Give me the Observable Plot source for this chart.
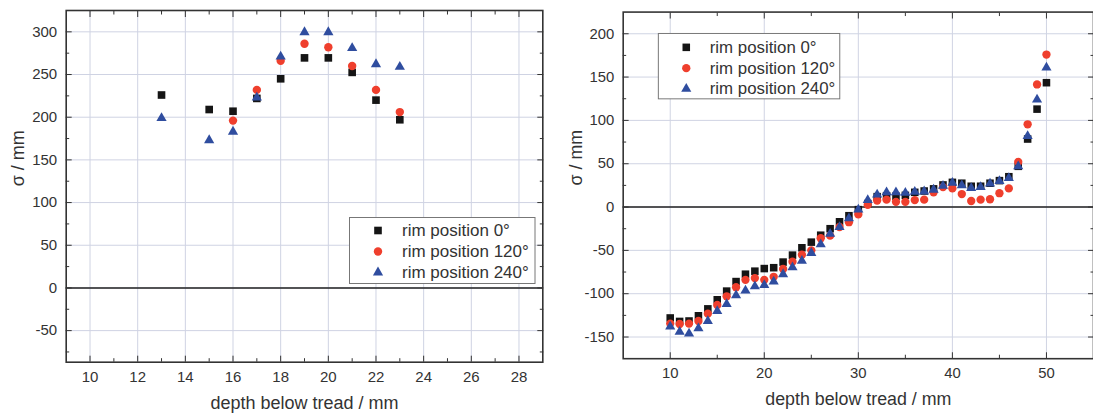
<!DOCTYPE html>
<html><head><meta charset="utf-8">
<script src="https://cdn.jsdelivr.net/npm/d3@7"></script>
<script src="https://cdn.jsdelivr.net/npm/@observablehq/plot@0.6"></script>
<style>
html,body{margin:0;padding:0;background:#fff;overflow:hidden;}
#wrap{position:relative;width:1093px;height:416px;overflow:hidden;}
#left,#right{position:absolute;top:0;}
#left{left:0}
#right{left:560px}
</style></head><body><div id="wrap"><div id="left"></div><div id="right"></div></div>
<script>
// ---------- data ----------
const seriesNames = ["rim position 0°", "rim position 120°", "rim position 240°"];
const seriesSymbols = ["square", "circle", "triangle"];
const seriesColors = ["#151515", "#ef3f2d", "#2f4d9f"];
const xTitle = "depth below tread / mm";
const yTitle = "σ / mm";

// left panel
const leftDepth = [13, 15, 16, 17, 18, 19, 20, 21, 22, 23];
const leftRim0   = [226, 209, 207, 222, 245, 269.5, 269.5, 252.5, 220, 197];
const leftRim120 = [null, null, 196, 232, 266, 286, 282, 260, 232, 206];
const leftRim240 = [199, 173, 183, 223, 271, 299.5, 299.5, 281, 262, 259];
const leftXTicks = [10, 12, 14, 16, 18, 20, 22, 24, 26, 28];
const leftXMinor = [11, 13, 15, 17, 19, 21, 23, 25, 27];
const leftYTicks = [-50, 0, 50, 100, 150, 200, 250, 300];
const leftYMinor = [-75, -25, 25, 75, 125, 175, 225, 275];

// right panel
const rightDepth = [10, 11, 12, 13, 14, 15, 16, 17, 18, 19, 20, 21, 22, 23, 24, 25, 26, 27, 28, 29, 30,
  31, 32, 33, 34, 35, 36, 37, 38, 39, 40, 41, 42, 43, 44, 45, 46, 47, 48, 49, 50];
const rightRim0 = [-128, -132, -131.5, -125.5, -117.5, -107, -97, -86, -77.5, -74, -71, -70, -63.5, -55.5, -47, -40.5, -32.5, -25, -17, -10, -3,
  4, 12, 13, 12.5, 13.5, 17, 18.5, 21, 25.5, 28.5, 27.5, 24, 24, 27.5, 30.5, 35, 47, 78.5, 113, 143.5];
const rightRim120 = [-134.5, -135, -134.5, -131.5, -123, -113, -103, -92.5, -84, -82, -84, -80.5, -71.5, -63, -55, -50, -36, -33, -23, -17.5, -8.5,
  2.5, 7.5, 8.5, 6, 6, 8, 8.5, 17, 23, 21.5, 15, 7, 8.5, 9, 16, 21.5, 52, 95.5, 141.5, 176];
const rightRim240 = [-138, -144, -146, -140, -131.5, -120, -112, -102, -96.5, -91.5, -90, -86, -77.5, -69.5, -62, -53, -43, -31, -23, -13, -3,
  8, 14.5, 17, 17, 16.5, 17.5, 18, 20, 24.5, 28, 25, 22, 23, 27, 30, 33.5, 47, 82, 124, 161];
const rightXTicks = [10, 20, 30, 40, 50];
const rightXMinor = [15, 25, 35, 45];
const rightYTicks = [-150, -100, -50, 0, 50, 100, 150, 200];
const rightYMinor = [-125, -75, -25, 25, 75, 125, 175];

// ---------- drawing ----------
const H = 416;
const symbolR = [4.3, 4.2, 3.8];

function toRows(depth, vals) {
  return depth.map((d, i) => ({depth: d, sigma: vals[i]})).filter(r => r.sigma != null);
}

function panel(cfg) {
  const {width, mL, mR, mT, mB, xDomain, yDomain, xTicks, xMinor, yTicks, yMinor, depth, series, legend} = cfg;
  const frameRight = width - mR, frameBottom = H - mB;
  const grid = "#cfd3e3";
  const marks = [
    Plot.gridX(xTicks, {stroke: grid, strokeOpacity: 1, strokeWidth: 1}),
    Plot.gridY(yTicks, {stroke: grid, strokeOpacity: 1, strokeWidth: 1}),
    Plot.ruleY([0], {stroke: "#222", strokeWidth: 1.6}),
    // inward ticks on all sides
    Plot.axisX(xTicks, {anchor: "bottom", tickSize: -6, tickPadding: 15, tickFormat: d => String(d), label: null, fontSize: 15}),
    Plot.axisX(xMinor, {anchor: "bottom", tickSize: -3.5, fill: "none", label: null}),
    Plot.axisX(xTicks, {anchor: "top", tickSize: -6, fill: "none", label: null}),
    Plot.axisX(xMinor, {anchor: "top", tickSize: -3.5, fill: "none", label: null}),
    Plot.axisY(yTicks, {anchor: "left", tickSize: -6, tickPadding: 15, tickFormat: d => String(d), label: null, fontSize: 15}),
    Plot.axisY(yMinor, {anchor: "left", tickSize: -3.5, fill: "none", label: null}),
    Plot.axisY(yTicks, {anchor: "right", tickSize: -6, fill: "none", label: null}),
    Plot.axisY(yMinor, {anchor: "right", tickSize: -3.5, fill: "none", label: null}),
    Plot.frame({stroke: "#333", strokeWidth: 1.6})
  ];
  series.forEach((vals, i) => {
    marks.push(Plot.dot(toRows(depth, vals), {
      x: "depth", y: "sigma", symbol: seriesSymbols[i], r: symbolR[i],
      fill: seriesColors[i], stroke: "none"
    }));
  });
  // legend box
  marks.push(Plot.frame({
    fill: "white", stroke: "#777", strokeWidth: 1,
    insetLeft: legend.x1 - mL, insetRight: frameRight - legend.x2,
    insetTop: legend.y1 - mT, insetBottom: frameBottom - legend.y2
  }));
  seriesNames.forEach((name, i) => {
    const dy = legend.rows[i] - mT;
    marks.push(Plot.dot([name], {
      frameAnchor: "top-left", dx: legend.markerX - mL, dy,
      symbol: seriesSymbols[i], r: symbolR[i], fill: seriesColors[i], stroke: "none"
    }));
    marks.push(Plot.text([name], {
      frameAnchor: "top-left", dx: legend.textX - mL, dy,
      textAnchor: "start", lineAnchor: "middle", fontSize: 17, fill: "#333"
    }));
  });
  // axis titles
  marks.push(Plot.text([xTitle], {frameAnchor: "bottom", dy: 41, fontSize: 18, fill: "#333", lineAnchor: "middle"}));
  marks.push(Plot.text([yTitle], {frameAnchor: "left", dx: cfg.yTitleDx, rotate: -90, fontSize: 18, fill: "#333", lineAnchor: "middle"}));

  return Plot.plot({
    width, height: H,
    marginLeft: mL, marginRight: mR, marginTop: mT, marginBottom: mB,
    x: {domain: xDomain, label: null},
    y: {domain: yDomain, label: null},
    style: {fontFamily: "'Liberation Sans', Arial, sans-serif", fontSize: "15px", color: "#333", background: "transparent", overflow: "visible"},
    marks
  });
}

document.getElementById("left").append(panel({
  width: 560, mL: 65.7, mR: 17.7, mT: 10, mB: 54.3,
  xDomain: [9, 29], yDomain: [-87, 325],
  xTicks: leftXTicks, xMinor: leftXMinor, yTicks: leftYTicks, yMinor: leftYMinor,
  depth: leftDepth, series: [leftRim0, leftRim120, leftRim240],
  legend: {x1: 349, x2: 534.5, y1: 217, y2: 283, markerX: 377.5, textX: 401.5, rows: [230, 251, 272]},
  yTitleDx: -48
}));

document.getElementById("right").append(panel({
  width: 538.2, mL: 63.3, mR: 0, mT: 11.7, mB: 54.3,
  xDomain: [5, 55], yDomain: [-175, 225],
  xTicks: rightXTicks, xMinor: rightXMinor, yTicks: rightYTicks, yMinor: rightYMinor,
  depth: rightDepth, series: [rightRim0, rightRim120, rightRim240],
  legend: {x1: 658.8 - 560, x2: 842 - 560, y1: 33.3, y2: 99.3, markerX: 687 - 560, textX: 710.7 - 560, rows: [47.3, 68.3, 89.3]},
  yTitleDx: -47
}));
</script>
</body></html>
